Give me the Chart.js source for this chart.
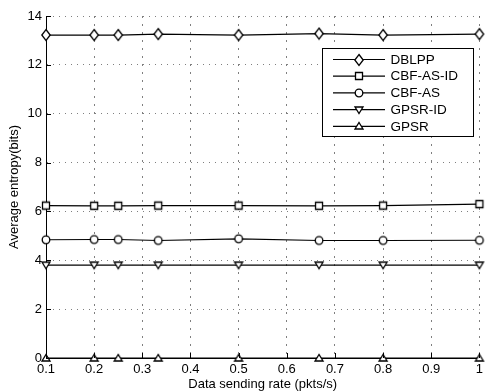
<!DOCTYPE html>
<html><head><meta charset="utf-8">
<script src="https://cdn.jsdelivr.net/npm/chart.js@4/dist/chart.umd.min.js"></script>
<style>html,body{margin:0;padding:0;background:#fff;}#wrap{width:487px;height:392px;position:relative;}</style>
</head><body><div id="wrap"><canvas id="c" width="487" height="392"></canvas></div>
<script>
const xValues = [0.1, 0.2, 0.25, 0.333, 0.5, 0.667, 0.8, 1];
const seriesNames = ['DBLPP', 'CBF-AS-ID', 'CBF-AS', 'GPSR-ID', 'GPSR'];
const dblpp   = [13.22, 13.22, 13.22, 13.26, 13.22, 13.28, 13.22, 13.26];
const cbfAsId = [6.24, 6.23, 6.23, 6.24, 6.24, 6.23, 6.24, 6.30];
const cbfAs   = [4.84, 4.85, 4.85, 4.81, 4.88, 4.81, 4.81, 4.82];
const gpsrId  = [3.80, 3.80, 3.80, 3.80, 3.80, 3.80, 3.80, 3.80];
const gpsr    = [0, 0, 0, 0, 0, 0, 0, 0];
const xTicks = [0.1, 0.2, 0.3, 0.4, 0.5, 0.6, 0.7, 0.8, 0.9, 1];
const yTicks = [0, 2, 4, 6, 8, 10, 12, 14];

const FONT = 'Liberation Sans, Arial, Helvetica, sans-serif';

function marker(kind) {
  const c = document.createElement('canvas');
  c.width = 12; c.height = 14;
  const g = c.getContext('2d');
  g.lineWidth = 1.3; g.strokeStyle = '#000'; g.fillStyle = '#fff';
  g.beginPath();
  const cx = 6, cy = 7;
  if (kind === 'diamond') {
    g.moveTo(cx, cy - 5.5); g.lineTo(cx + 4.2, cy); g.lineTo(cx, cy + 5.5); g.lineTo(cx - 4.2, cy); g.closePath();
  } else if (kind === 'square') {
    g.rect(cx - 3.5, cy - 3.5, 7, 7);
  } else if (kind === 'circle') {
    g.arc(cx, cy, 3.8, 0, Math.PI * 2);
  } else if (kind === 'down') {
    g.moveTo(cx - 4, cy - 3); g.lineTo(cx + 4, cy - 3); g.lineTo(cx, cy + 3.5); g.closePath();
  } else if (kind === 'up') {
    g.moveTo(cx - 4, cy + 3); g.lineTo(cx + 4, cy + 3); g.lineTo(cx, cy - 3.5); g.closePath();
  }
  g.fill(); g.stroke();
  return c;
}
const markerKinds = ['diamond', 'square', 'circle', 'down', 'up'];
const markers = markerKinds.map(marker);
const seriesValues = [dblpp, cbfAsId, cbfAs, gpsrId, gpsr];

const datasets = seriesNames.map((name, i) => ({
  label: name,
  data: xValues.map((x, j) => ({x: x, y: seriesValues[i][j]})),
  borderColor: '#000',
  borderWidth: 1.2,
  pointStyle: markers[i],
  pointRadius: 5,
  pointHoverRadius: 5,
  fill: false,
  tension: 0,
  clip: false
}));

const innerTicks = {
  id: 'innerTicks',
  afterDatasetsDraw(chart) {
    const ctx = chart.ctx, a = chart.chartArea;
    const xs = chart.scales.x, ys = chart.scales.y;
    ctx.save();
    ctx.strokeStyle = '#000'; ctx.lineWidth = 1;
    ctx.beginPath();
    xTicks.forEach(v => { const p = Math.round(xs.getPixelForValue(v)) + 0.5; ctx.moveTo(p, a.bottom); ctx.lineTo(p, a.bottom - 5); });
    yTicks.forEach(v => { const p = Math.round(ys.getPixelForValue(v)) + 0.5; ctx.moveTo(a.left, p); ctx.lineTo(a.left + 5, p); });
    ctx.stroke();
    ctx.restore();
  }
};

const customLegend = {
  id: 'customLegend',
  afterDraw(chart) {
    const ctx = chart.ctx;
    const L = 322.5, T = 48.5, R = 473.5, B = 136.5;
    ctx.save();
    ctx.fillStyle = '#fff';
    ctx.fillRect(L, T, R - L, B - T);
    ctx.strokeStyle = '#000'; ctx.lineWidth = 1;
    ctx.strokeRect(L, T, R - L, B - T);
    ctx.font = '13.5px ' + FONT;
    ctx.textBaseline = 'middle';
    ctx.textAlign = 'left';
    chart.data.datasets.forEach((ds, i) => {
      const y = 59.5 + i * 16.7;
      ctx.strokeStyle = '#000'; ctx.lineWidth = 1.2;
      ctx.beginPath(); ctx.moveTo(333, y); ctx.lineTo(385, y); ctx.stroke();
      const m = ds.pointStyle;
      ctx.drawImage(m, 359 - m.width / 2, Math.round(y) - m.height / 2);
      ctx.fillStyle = '#000';
      ctx.fillText(ds.label, 390.5, y + 0.5);
    });
    ctx.restore();
  }
};

const fmt = v => String(parseFloat(Number(v).toFixed(2)));

new Chart(document.getElementById('c'), {
  type: 'line',
  data: { datasets: datasets },
  options: {
    responsive: false,
    animation: false,
    events: [],
    layout: { padding: { top: 16, right: 6, left: 0, bottom: 0 } },
    plugins: { legend: { display: false }, tooltip: { enabled: false } },
    scales: {
      x: {
        type: 'linear', min: 0.1, max: 1,
        afterBuildTicks: s => { s.ticks = xTicks.map(v => ({value: v})); },
        afterFit: s => { s.height = 34; },
        grid: { color: 'rgba(0,0,0,0.5)', lineWidth: 1, drawTicks: false },
        border: { display: true, color: '#000', width: 1, dash: [2, 6] },
        ticks: { color: '#000', font: { family: FONT, size: 13 }, padding: 4, maxRotation: 0, autoSkip: false, callback: fmt },
        title: { display: true, text: 'Data sending rate (pkts/s)', color: '#000', font: { family: FONT, size: 13 }, padding: { top: 0, bottom: 0 } }
      },
      y: {
        type: 'linear', min: 0, max: 14,
        afterBuildTicks: s => { s.ticks = yTicks.map(v => ({value: v})); },
        afterFit: s => { s.width = 46; },
        grid: { color: 'rgba(0,0,0,0.5)', lineWidth: 1, drawTicks: false },
        border: { display: true, color: '#000', width: 1, dash: [1, 5] },
        ticks: { color: '#000', font: { family: FONT, size: 13 }, padding: 4, callback: fmt },
        title: { display: true, text: 'Average entropy(bits)', color: '#000', font: { family: FONT, size: 13 }, padding: { top: 7, bottom: 0 } }
      }
    }
  },
  plugins: [innerTicks, customLegend]
});
</script>
</body></html>
